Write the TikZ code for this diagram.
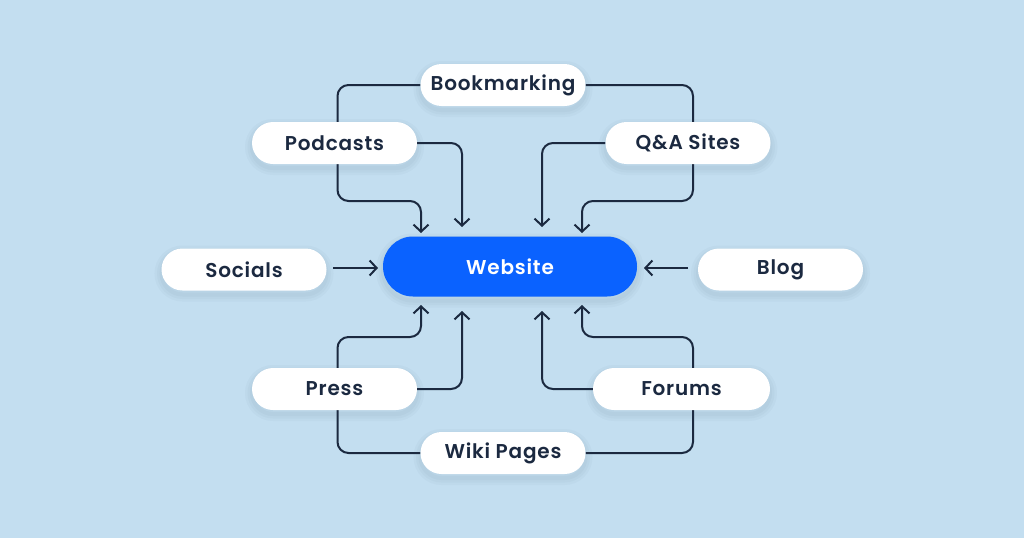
\documentclass[tikz,border=0pt]{standalone}
\usepackage{fontspec}
\setmainfont{Poppins}[UprightFont=* Medium, BoldFont=* SemiBold]
\usetikzlibrary{arrows.meta}
\definecolor{bg}{HTML}{C3DEF0}
\definecolor{navy}{HTML}{1B2940}
\definecolor{webblue}{HTML}{0A62FF}
\definecolor{shadowc}{HTML}{3A5A78}
\pgfdeclarelayer{bgfill}
\pgfdeclarelayer{lines}
\pgfsetlayers{bgfill,lines,main}
\tikzset{
  lab/.style={font=\addfontfeatures{LetterSpace=4}\bfseries\fontsize{20}{20}\selectfont},
  shad/.style={
    preaction={draw=shadowc, draw opacity=0.035, line width=14pt, transform canvas={yshift=-4pt}},
    preaction={draw=shadowc, draw opacity=0.035, line width=9pt, transform canvas={yshift=-4pt}},
    preaction={draw=shadowc, draw opacity=0.04, line width=4pt, transform canvas={yshift=-4pt}}},
  pill/.style={fill=white, rounded corners=21pt, minimum width=165pt, minimum height=42pt,
    inner sep=0pt, text=navy, lab, shad},
  hub/.style={fill=webblue, rounded corners=30pt, minimum width=254pt, minimum height=60pt,
    inner sep=0pt, text=white, lab, shad},
  conn/.style={draw=navy, line width=2pt, rounded corners=11pt,
    -{Straight Barb[length=7pt,width=15pt,line width=2pt]}}
}
\begin{document}
\begin{tikzpicture}[x=1pt,y=-1pt]
\begin{pgfonlayer}{bgfill}
\fill[bg] (0,0) rectangle (1024,538);
\end{pgfonlayer}
\useasboundingbox (0,0) rectangle (1024,538);

\node[pill] (bm) at (503,85) {Bookmarking};
\node[pill] (pod) at (334.5,143) {Podcasts};
\node[pill] (qa) at (688,143) {Q\&A Sites};
\node[pill] (soc) at (244,269.5) {Socials};
\node[pill] (blog) at (780.5,269.5) {Blog};
\node[pill] (press) at (334.5,389) {Press};
\node[pill, minimum width=177pt] (forum) at (681.5,389) {Forums};
\node[pill] (wiki) at (503,453) {Wiki Pages};
\node[hub] (web) at (510,266.5) {Website};

% arrow tip points
\coordinate (tl) at (421,233);
\coordinate (tli) at (462,227);
\coordinate (tri) at (542,227);
\coordinate (tr) at (582,233);
\coordinate (bl) at (421,305);
\coordinate (bli) at (462,311);
\coordinate (bri) at (542,311);
\coordinate (br) at (582,305);
\coordinate (sa) at (333,268);
\coordinate (sb) at (378,268);
\coordinate (ba) at (688,268);
\coordinate (bb) at (644,268);

\begin{pgfonlayer}{lines}
% top
\draw[conn] (bm.west) -- (337.5,85) -- (337.5,201) -- (421,201) -- (tl);
\draw[conn] (pod.east) -- (462,143) -- (tli);
\draw[conn] (qa.west) -- (542,143) -- (tri);
\draw[conn] (bm.east) -- (693,85) -- (693,201) -- (582,201) -- (tr);
% middle
\draw[conn] (sa) -- (sb);
\draw[conn] (ba) -- (bb);
% bottom
\draw[conn] (wiki.west) -- (337.5,453) -- (337.5,337) -- (421,337) -- (bl);
\draw[conn] (press.east) -- (462,389) -- (bli);
\draw[conn] (forum.west) -- (542,389) -- (bri);
\draw[conn] (wiki.east) -- (693,453) -- (693,337) -- (582,337) -- (br);
\end{pgfonlayer}
\end{tikzpicture}
\end{document}
